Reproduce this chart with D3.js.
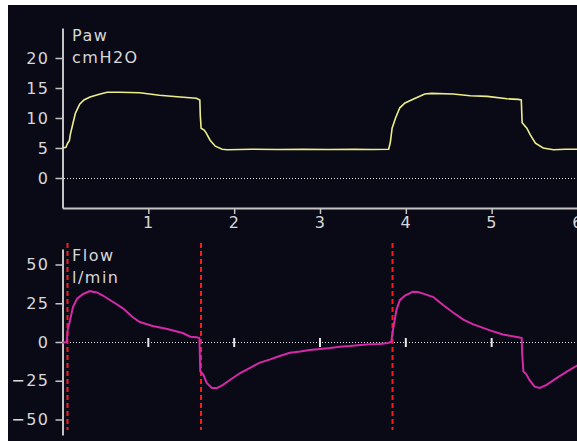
<!DOCTYPE html>
<html>
<head>
<meta charset="utf-8">
<script src="https://cdn.jsdelivr.net/npm/d3@7"></script>
<style>
  body { margin: 0; background: #fff; }
  svg { display: block; }
  .axis text { font-family: "DejaVu Sans", sans-serif; font-size: 16px; fill: #d8d8d8; letter-spacing: 1.5px; }
  .axis path, .axis line { stroke: #c4c4c4; }
  .lbl { font-family: "DejaVu Sans", sans-serif; font-size: 16px; fill: #d8d8d8; letter-spacing: 1.5px; }
</style>
</head>
<body>
<div id="chart"></div>
<script>
// pressure trace (s, cmH2O)
const pawTime = [0, 0.04, 0.06, 0.08, 0.09, 0.12, 0.15, 0.17, 0.20, 0.25, 0.32, 0.44, 0.52, 0.67, 0.90, 1.13, 1.37, 1.56, 1.60, 1.605, 1.615, 1.65, 1.67, 1.72, 1.78, 1.86, 1.92, 2.2, 2.5, 2.8, 3.1, 3.4, 3.6, 3.8, 3.82, 3.84, 3.88, 3.93, 3.99, 4.11, 4.22, 4.30, 4.55, 4.75, 4.95, 5.18, 5.31, 5.345, 5.355, 5.41, 5.45, 5.51, 5.60, 5.72, 5.86, 6.0];
const pawValue = [5.0, 5.1, 5.8, 6.2, 7.2, 9.0, 10.8, 11.4, 12.3, 13.0, 13.5, 14.0, 14.3, 14.3, 14.2, 13.8, 13.5, 13.3, 13.0, 10.5, 8.3, 8.0, 7.6, 6.3, 5.3, 4.8, 4.7, 4.8, 4.75, 4.8, 4.75, 4.8, 4.75, 4.8, 6.0, 8.3, 10.0, 11.7, 12.5, 13.3, 14.0, 14.1, 14.0, 13.7, 13.6, 13.2, 13.1, 13.0, 9.2, 8.3, 7.2, 5.8, 5.0, 4.7, 4.8, 4.8];

// flow trace (s, l/min)
const flowTime = [0, 0.05, 0.06, 0.088, 0.122, 0.17, 0.24, 0.32, 0.40, 0.47, 0.59, 0.70, 0.82, 0.90, 1.05, 1.22, 1.40, 1.49, 1.56, 1.595, 1.605, 1.64, 1.68, 1.74, 1.80, 1.87, 1.95, 2.07, 2.18, 2.30, 2.42, 2.53, 2.65, 2.77, 2.88, 3.0, 3.12, 3.23, 3.35, 3.47, 3.58, 3.70, 3.79, 3.83, 3.85, 3.89, 3.93, 3.99, 4.08, 4.14, 4.22, 4.32, 4.43, 4.55, 4.67, 4.78, 4.98, 5.13, 5.31, 5.35, 5.355, 5.37, 5.40, 5.44, 5.50, 5.56, 5.64, 5.76, 5.88, 6.0];
const flowValue = [-0.5, 0, 7.7, 14, 22.5, 28, 31, 32.8, 32, 30, 25.8, 21.9, 16, 12.9, 10.3, 8.4, 5.8, 3.4, 3.0, 2.6, -19, -21, -26.4, -29.7, -29.7, -27.7, -24.5, -20, -16.8, -13.3, -11.2, -9, -7, -6.2, -5.2, -4.5, -3.9, -3, -2.6, -1.9, -1.5, -1.3, -0.6, 0, 7.7, 20.6, 27, 30, 32.4, 32.2, 30.9, 29, 24, 19, 14.5, 11.5, 7.5, 4.8, 3.0, 2.6, -7, -19, -20.5, -24.5, -28.8, -29.7, -27.7, -23.2, -19, -15];

const breathMarks = [0.058, 1.614, 3.845];
const timeTicks = [1, 2, 3, 4, 5, 6];
const zeroMarks = [1, 2, 3, 4, 5];
const pawTicks = [0, 5, 10, 15, 20];
const flowTicks = [-50, -25, 0, 25, 50];

const width = 577, height = 441;

const svg = d3.select("#chart").append("svg")
    .attr("width", width)
    .attr("height", height);

// screen background
svg.append("rect").attr("x", 8).attr("y", 5)
    .attr("width", width - 8).attr("height", height - 5)
    .attr("fill", "#0a0a17");

const x = d3.scaleLinear().domain([0, 6]).range([62.5, 577.5]);
const yPaw = d3.scaleLinear().domain([-5, 25]).range([208, 28]);
const yFlow = d3.scaleLinear().domain([-60, 60]).range([435, 249]);

//top panel axes
svg.append("g").attr("class", "axis")
    .attr("transform", "translate(62.5,0)")
    .call(d3.axisLeft(yPaw).tickValues(pawTicks).tickSize(7).tickSizeOuter(0).tickPadding(6));

svg.append("g").attr("class", "axis")
    .attr("transform", "translate(0,208)")
    .call(d3.axisBottom(x).tickValues(timeTicks).tickFormat(d3.format("d"))
        .tickSize(6).tickSizeOuter(0).tickPadding(3));

//bottom panel axis
svg.append("g").attr("class", "axis")
    .attr("transform", "translate(62.5,0)")
    .call(d3.axisLeft(yFlow).tickValues(flowTicks).tickSize(7).tickSizeOuter(0).tickPadding(6));

svg.selectAll(".axis path").attr("stroke-width", 2);
svg.selectAll(".axis line").attr("stroke-width", 1.5);

// dotted zero lines
const zeroY = [yPaw(0), yFlow(0)];
svg.append("g").selectAll("line")
    .data(zeroY)
    .enter()
    .append("line")
    .attr("x1", x(0) + 1).attr("x2", x(6))
    .attr("y1", d => Math.round(d) + 0.5).attr("y2", d => Math.round(d) + 0.5)
    .attr("stroke", "#e6e6e6")
    .attr("stroke-dasharray", "1.5,1.5")
    .attr("shape-rendering", "crispEdges");

svg.append("g").selectAll("line")
    .data(zeroMarks)
    .enter()
    .append("line")
    .attr("x1", d => x(d)).attr("x2", d => x(d))
    .attr("y1", yFlow(0) - 4).attr("y2", yFlow(0) + 5)
    .attr("stroke", "#e6e6e6").attr("stroke-width", 2);

// breath markers
svg.append("g").selectAll("line")
    .data(breathMarks)
    .enter()
    .append("line")
    .attr("x1", d => x(d)).attr("x2", d => x(d))
    .attr("y1", 243).attr("y2", 430)
    .attr("stroke", "#ff1a1a").attr("stroke-width", 2)
    .attr("stroke-dasharray", "5,3");

// traces
const pawLine = d3.line()
    .x((d, i) => x(pawTime[i]))
    .y(d => yPaw(d));

svg.append("path")
    .attr("d", pawLine(pawValue))
    .attr("fill", "none")
    .attr("stroke", "#eeee8a")
    .attr("stroke-width", 1.6);

const flowLine = d3.line()
    .x((d, i) => x(flowTime[i]))
    .y(d => yFlow(d));

svg.append("path")
    .attr("d", flowLine(flowValue))
    .attr("fill", "none")
    .attr("stroke", "#d42aa8")
    .attr("stroke-width", 2);

// channel labels
svg.append("text").attr("class", "lbl").attr("x", 72).attr("y", 41).text("Paw");
svg.append("text").attr("class", "lbl").attr("x", 72).attr("y", 63).text("cmH2O");
svg.append("text").attr("class", "lbl").attr("x", 72).attr("y", 261).text("Flow");
svg.append("text").attr("class", "lbl").attr("x", 72).attr("y", 283).text("l/min");
</script>
</body>
</html>
